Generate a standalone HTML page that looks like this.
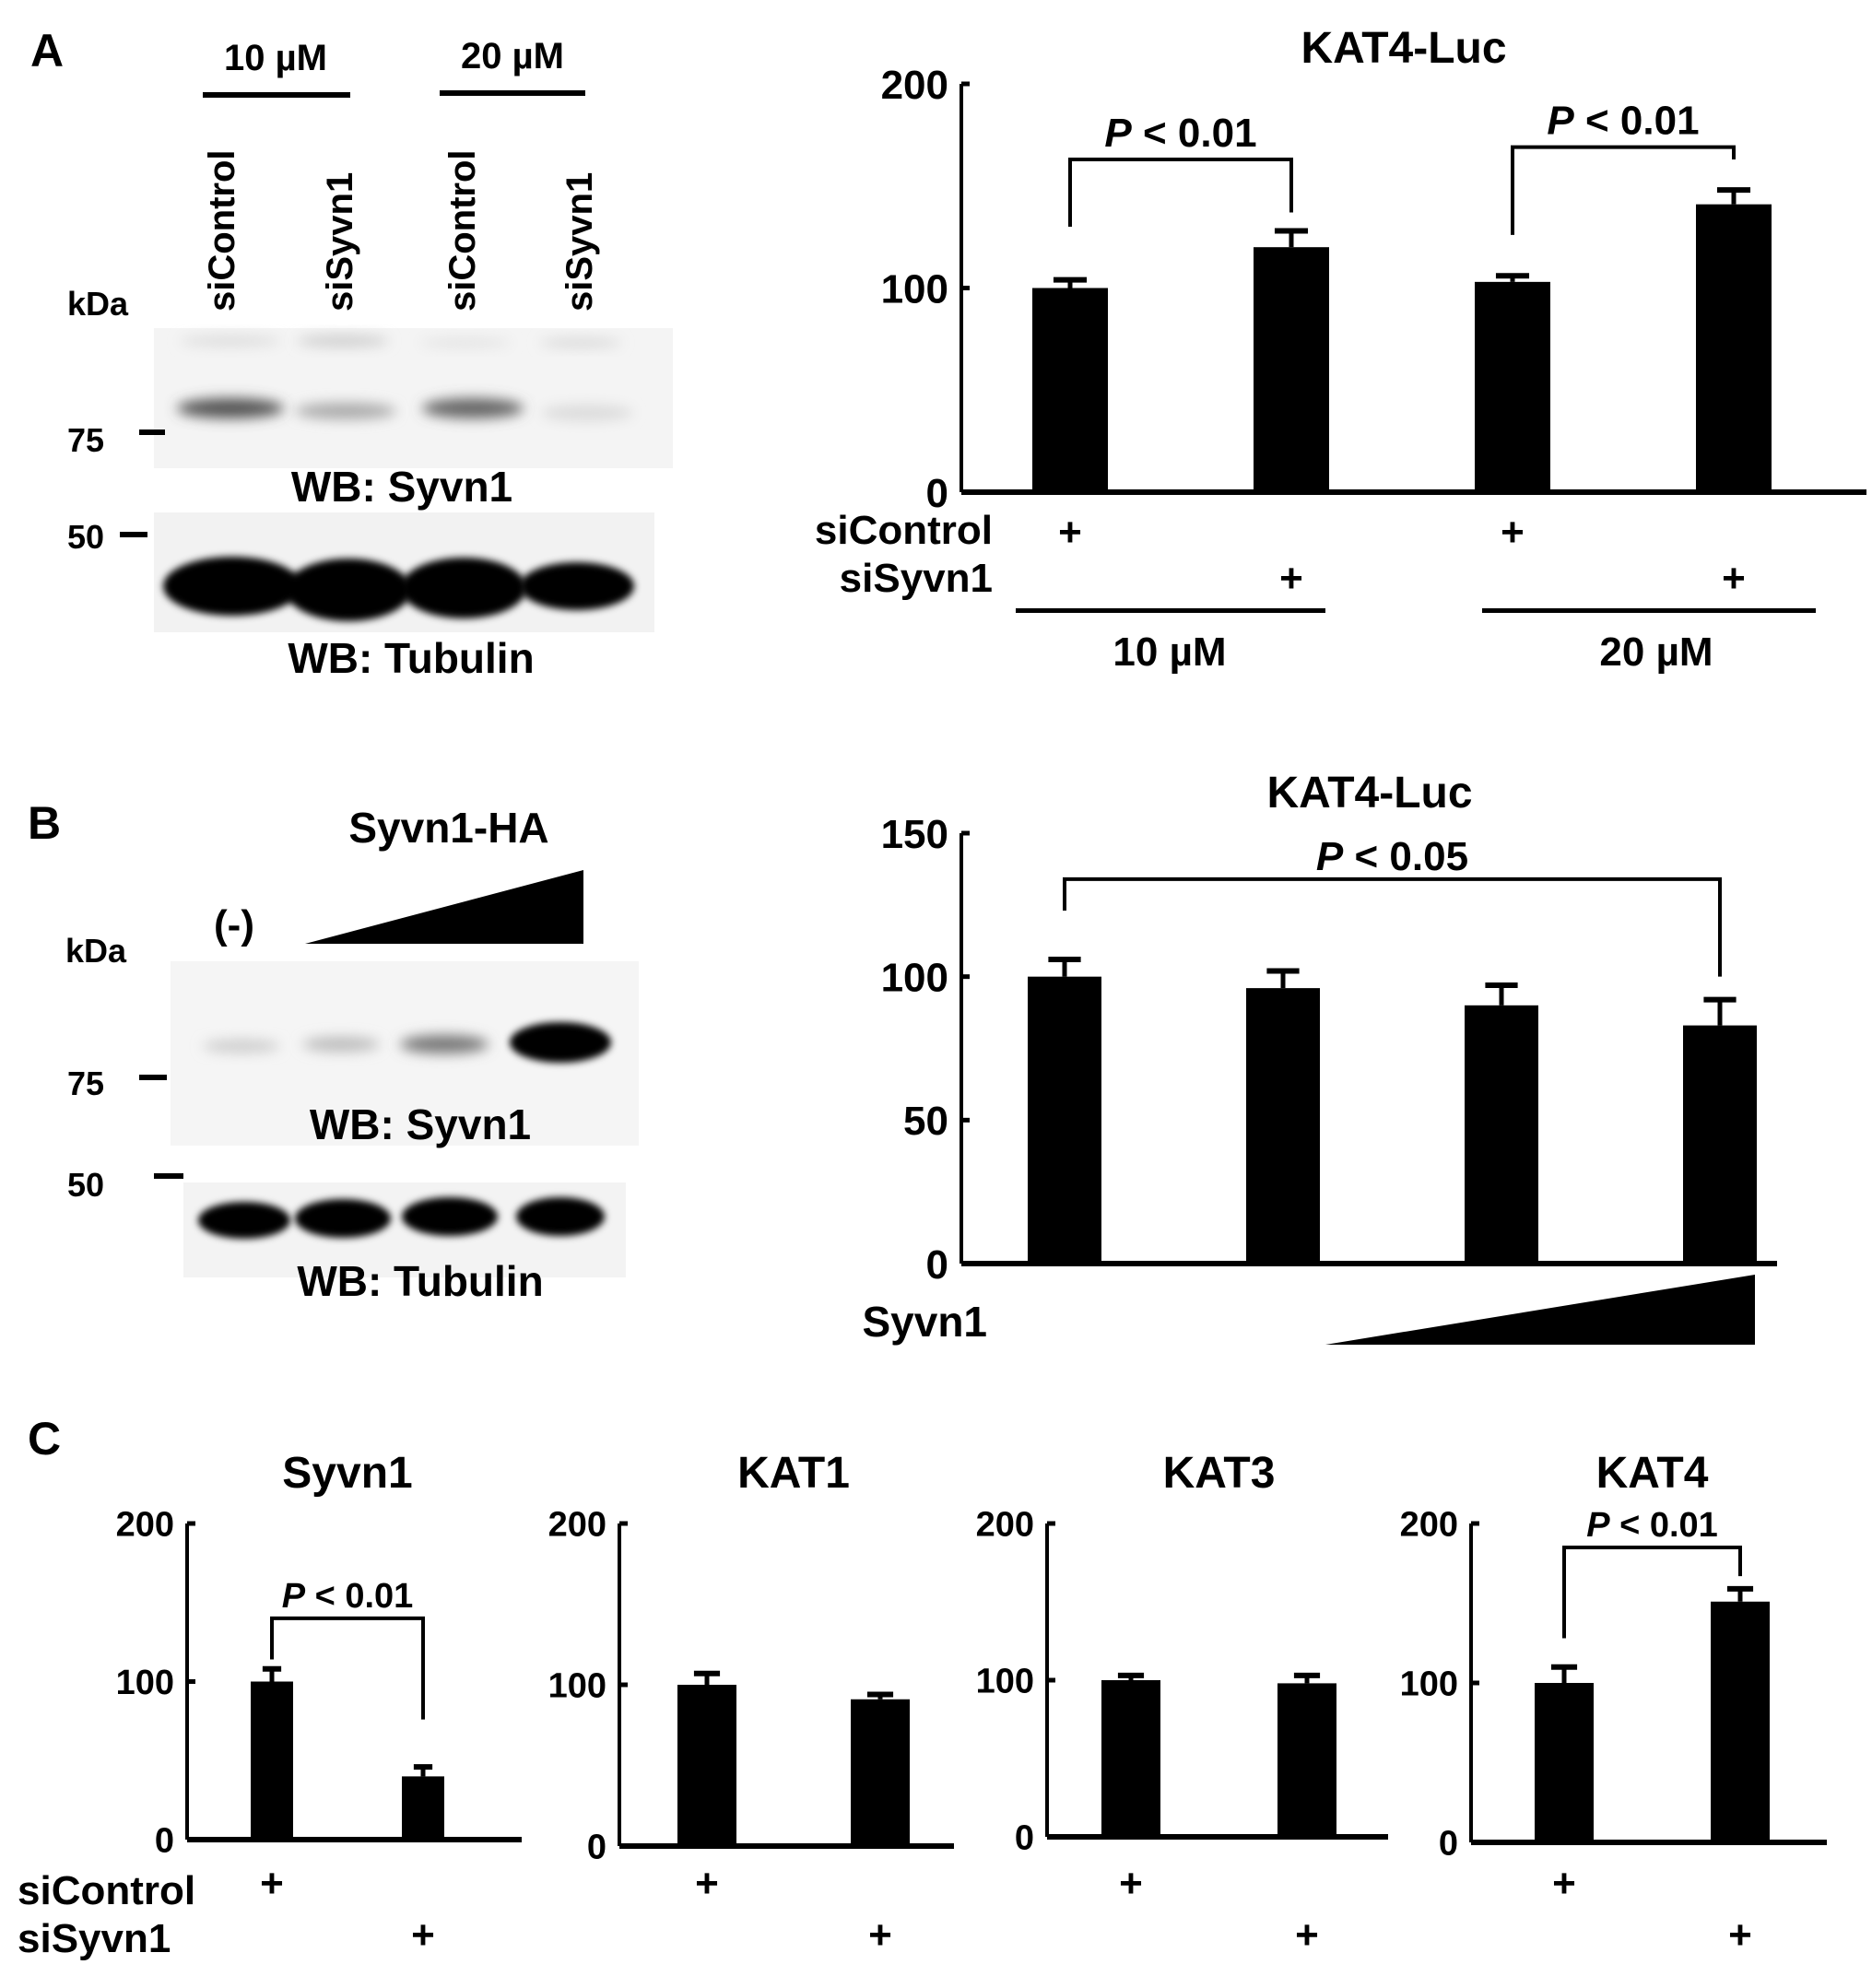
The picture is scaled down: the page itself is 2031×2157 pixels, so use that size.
<!DOCTYPE html>
<html><head><meta charset="utf-8"><style>
html,body{margin:0;padding:0;background:#fff}
svg{display:block}
text{font-family:"Liberation Sans",Arial,sans-serif;font-weight:bold;fill:#000}
</style></head><body>
<svg id="fig" width="2031" height="2157" viewBox="0 0 2031 2157" xmlns="http://www.w3.org/2000/svg">
<defs>
<filter id="blur6" x="-30%" y="-100%" width="160%" height="300%"><feGaussianBlur stdDeviation="7"/></filter>
<filter id="blur3" x="-30%" y="-100%" width="160%" height="300%"><feGaussianBlur stdDeviation="4"/></filter>
</defs>

<!-- Panel A blot -->
<g>
<text x="33" y="72" font-size="50">A</text>
<text x="299" y="76" font-size="40" text-anchor="middle">10 µM</text>
<rect x="220" y="100" width="160" height="6"/>
<text x="556" y="74" font-size="40" text-anchor="middle">20 µM</text>
<rect x="477" y="98" width="158" height="6"/>
<text transform="translate(254,338) rotate(-90)" font-size="40">siControl</text>
<text transform="translate(382,338) rotate(-90)" font-size="40">siSyvn1</text>
<text transform="translate(515,338) rotate(-90)" font-size="40">siControl</text>
<text transform="translate(642,338) rotate(-90)" font-size="40">siSyvn1</text>
<text x="73" y="342" font-size="36">kDa</text>
<rect x="167" y="356" width="563" height="152" fill="#f4f4f4"/>
<ellipse cx="250" cy="370" rx="55" ry="6" fill="#ddd" filter="url(#blur6)"/>
<ellipse cx="372" cy="370" rx="50" ry="6" fill="#ccc" filter="url(#blur6)"/>
<ellipse cx="505" cy="372" rx="50" ry="5" fill="#e2e2e2" filter="url(#blur6)"/>
<ellipse cx="630" cy="372" rx="45" ry="5" fill="#d8d8d8" filter="url(#blur6)"/>
<ellipse cx="250" cy="443" rx="58" ry="11" fill="#555" filter="url(#blur6)"/>
<ellipse cx="375" cy="446" rx="55" ry="9" fill="#aaa" filter="url(#blur6)"/>
<ellipse cx="513" cy="443" rx="55" ry="11" fill="#666" filter="url(#blur6)"/>
<ellipse cx="637" cy="448" rx="50" ry="9" fill="#dcdcdc" filter="url(#blur6)"/>
<text x="73" y="490" font-size="36">75</text>
<rect x="151" y="466" width="28" height="6"/>
<text x="436" y="544" font-size="46" text-anchor="middle">WB: Syvn1</text>
<rect x="167" y="556" width="543" height="130" fill="#f2f2f2"/>
<text x="73" y="595" font-size="36">50</text>
<rect x="130" y="577" width="30" height="6"/>
<ellipse cx="252" cy="636" rx="75" ry="32" fill="#000" filter="url(#blur3)"/>
<ellipse cx="378" cy="640" rx="68" ry="34" fill="#000" filter="url(#blur3)"/>
<ellipse cx="503" cy="638" rx="68" ry="33" fill="#000" filter="url(#blur3)"/>
<ellipse cx="626" cy="636" rx="62" ry="26" fill="#000" filter="url(#blur3)"/>
<text x="446" y="730" font-size="46" text-anchor="middle">WB: Tubulin</text>
</g>

<!-- Panel B blot -->
<g>
<text x="30" y="910" font-size="50">B</text>
<text x="487" y="914" font-size="46" text-anchor="middle">Syvn1-HA</text>
<text x="254" y="1018" font-size="44" text-anchor="middle">(-)</text>
<polygon points="331,1024 633,944 633,1024" fill="#000"/>
<text x="71" y="1044" font-size="36">kDa</text>
<rect x="185" y="1043" width="508" height="200" fill="#f5f5f5"/>
<ellipse cx="262" cy="1135" rx="42" ry="7" fill="#ccc" filter="url(#blur6)"/>
<ellipse cx="370" cy="1133" rx="42" ry="8" fill="#bbb" filter="url(#blur6)"/>
<ellipse cx="482" cy="1133" rx="48" ry="10" fill="#777" filter="url(#blur6)"/>
<ellipse cx="608" cy="1131" rx="55" ry="22" fill="#000" filter="url(#blur3)"/>
<text x="73" y="1188" font-size="36">75</text>
<rect x="151" y="1166" width="30" height="6"/>
<text x="456" y="1236" font-size="46" text-anchor="middle">WB: Syvn1</text>
<rect x="199" y="1283" width="480" height="103" fill="#f3f3f3"/>
<text x="73" y="1298" font-size="36">50</text>
<rect x="167" y="1273" width="32" height="6"/>
<ellipse cx="265" cy="1324" rx="50" ry="20" fill="#000" filter="url(#blur3)"/>
<ellipse cx="372" cy="1322" rx="52" ry="21" fill="#000" filter="url(#blur3)"/>
<ellipse cx="488" cy="1320" rx="52" ry="21" fill="#000" filter="url(#blur3)"/>
<ellipse cx="608" cy="1320" rx="48" ry="21" fill="#000" filter="url(#blur3)"/>
<text x="456" y="1406" font-size="46" text-anchor="middle">WB: Tubulin</text>
</g>

<!-- static labels for charts -->
<text x="1523" y="68" font-size="48" text-anchor="middle">KAT4-Luc</text>
<text x="1077" y="590" font-size="44" text-anchor="end">siControl</text>
<text x="1077" y="642" font-size="44" text-anchor="end">siSyvn1</text>
<rect x="1102" y="660" width="336" height="5"/>
<rect x="1608" y="660" width="362" height="5"/>
<text x="1269" y="722" font-size="44" text-anchor="middle">10 µM</text>
<text x="1797" y="722" font-size="44" text-anchor="middle">20 µM</text>

<text x="1486" y="876" font-size="48" text-anchor="middle">KAT4-Luc</text>
<text x="1071" y="1450" font-size="46" text-anchor="end">Syvn1</text>
<polygon points="1438,1459 1904,1383 1904,1459" fill="#000"/>

<text x="30" y="1578" font-size="50">C</text>
<text x="19" y="2066" font-size="44">siControl</text>
<text x="19" y="2118" font-size="44">siSyvn1</text>

<g id="charts"></g>
</svg>
<script>
// Chart A data
const aValues = [100, 120, 103, 141];
const aErrors = [4, 8, 3, 7];
const aTicks = [0, 100, 200];
const aSiControl = [true, false, true, false];
// Chart B data
const bValues = [100, 96, 90, 83];
const bErrors = [6, 6, 7, 9];
const bTicks = [0, 50, 100, 150];
// Chart C data
const cTitles = ["Syvn1", "KAT1", "KAT3", "KAT4"];
const cValues = [[100, 40], [100, 91], [100, 98], [100, 151]];
const cErrors = [[8, 6], [7, 3], [3, 5], [10, 8]];
const cTicks = [0, 100, 200];
const pLabels = ["P < 0.01", "P < 0.05"];

const NS = "http://www.w3.org/2000/svg";
const root = document.getElementById("charts");
function mk(tag, attrs, parent) {
  const e = document.createElementNS(NS, tag);
  for (const k in attrs) e.setAttribute(k, attrs[k]);
  (parent || root).appendChild(e);
  return e;
}
function ptext(x, y, size, label, parent) {
  const t = mk("text", {x: x, y: y, "font-size": size, "text-anchor": "middle"}, parent);
  const p = mk("tspan", {"font-style": "italic"}, t); p.textContent = label.split(" ")[0];
  const r = mk("tspan", {}, t); r.textContent = " " + label.split(" ").slice(1).join(" ");
  return t;
}
function chart(cfg) {
  const g = mk("g", {});
  
  
  const y = v => cfg.y0 - (v / cfg.max) * (cfg.y0 - cfg.yTop);
  const ax = mk("line", {x1: cfg.axX, y1: y(cfg.max), x2: cfg.axX, y2: cfg.y0, stroke: "#000", "stroke-width": cfg.axW}, g);
  
  
  const bx = mk("line", {x1: cfg.axX, y1: cfg.y0, x2: cfg.axEnd, y2: cfg.y0, stroke: "#000", "stroke-width": cfg.axW + 2}, g);
  
  
  cfg.ticks.forEach(t => {
    mk("line", {x1: cfg.axX, y1: y(t), x2: cfg.axX + 9, y2: y(t), stroke: "#000", "stroke-width": cfg.axW + 1}, g);
    const tl = mk("text", {x: cfg.axX - 14, y: y(t) + cfg.tickSize * 0.36, "font-size": cfg.tickSize, "text-anchor": "end", "font-weight": cfg.tickBold ? "bold" : "normal"}, g);
    tl.textContent = t;
    
    
  });
  const centers = [];
  cfg.values.forEach((v, i) => {
    const cx = cfg.x0 + i * cfg.step;
    centers.push(cx);
    const top = y(v);
    const eb = y(v + cfg.errors[i]);
    const el = mk("line", {x1: cx, y1: top, x2: cx, y2: eb, stroke: "#000", "stroke-width": 5}, g);
    
    
    mk("line", {x1: cx - cfg.bw * 0.22, y1: eb, x2: cx + cfg.bw * 0.22, y2: eb, stroke: "#000", "stroke-width": 6}, g);
    const r = mk("rect", {x: cx - cfg.bw / 2, y: top, width: cfg.bw, height: cfg.y0 - top, fill: "#000"}, g);
    
    
  });
  (cfg.brackets || []).forEach(b => {
    const x1 = centers[b.a], x2 = centers[b.b];
    const by = y(b.level);
    const pth = mk("path", {d: `M${x1},${y(cfg.values[b.a] + cfg.errors[b.a] + b.gapA)} V${by} H${x2} V${y(cfg.values[b.b] + cfg.errors[b.b] + b.gapB)}`, fill: "none", stroke: "#000", "stroke-width": 4}, g);
    
    
    const pt = ptext((x1 + x2) / 2, by - cfg.pGap, cfg.pSize, b.label, g);
    
    
  });
  (cfg.plus || []).forEach(p => {
    const t = mk("text", {x: centers[p.i], y: p.y, "font-size": 44, "text-anchor": "middle"}, g);
    t.textContent = "+";
    
    
  });
  if (cfg.title) {
    const t = mk("text", {x: cfg.titleX, y: cfg.titleY, "font-size": 48, "text-anchor": "middle"}, g);
    t.textContent = cfg.title;
    
    
  }
  return centers;
}

// Chart A
const aPlus = aSiControl.map((c, i) => ({i: i, y: c ? 592 : 642}));
chart({name: "chart-a", axX: 1043, axEnd: 2025, y0: 534, yTop: 91, max: 200, ticks: aTicks, tickSize: 44, tickBold: true, axW: 4,
  x0: 1161, step: 240, bw: 82, values: aValues, errors: aErrors, pSize: 44, pGap: 14,
  brackets: [{a: 0, b: 1, level: 163, gapA: 26, gapB: 9, label: pLabels[0]}, {a: 2, b: 3, level: 169, gapA: 20, gapB: 15, label: pLabels[0]}],
  plus: aPlus});

// Chart B
chart({name: "chart-b", axX: 1043, axEnd: 1928, y0: 1371, yTop: 904, max: 150, ticks: bTicks, tickSize: 44, tickBold: true, axW: 4,
  x0: 1155, step: 237, bw: 80, values: bValues, errors: bErrors, pSize: 44, pGap: 10,
  brackets: [{a: 0, b: 3, level: 134, gapA: 17, gapB: 8, label: pLabels[1]}]});

// Chart C small multiples
const cLayout = [
  {axX: 203, axEnd: 566, y0: 1996, x0: 295, step: 164},
  {axX: 672, axEnd: 1035, y0: 2003, x0: 767, step: 188},
  {axX: 1136, axEnd: 1506, y0: 1993, x0: 1227, step: 191},
  {axX: 1596, axEnd: 1982, y0: 1999, x0: 1697, step: 191}
];
const cBrackets = [[{a: 0, b: 1, level: 140, gapA: 6, gapB: 30, label: pLabels[0]}], [], [], [{a: 0, b: 1, level: 185, gapA: 18, gapB: 8, label: pLabels[0]}]];
cTitles.forEach((title, k) => {
  const L = cLayout[k];
  chart({name: "chart-c-" + title.toLowerCase(), axX: L.axX, axEnd: L.axEnd, y0: L.y0, yTop: 1653, max: 200, ticks: cTicks, tickSize: 38, tickBold: false, axW: 4,
    x0: L.x0, step: L.step, bw: k === 0 ? 46 : 64, values: cValues[k], errors: cErrors[k], pSize: 38, pGap: 12,
    brackets: cBrackets[k], plus: [{i: 0, y: 2058}, {i: 1, y: 2114}],
    title: title, titleX: L.x0 + L.step / 2, titleY: 1614});
});
</script>
</body></html>
